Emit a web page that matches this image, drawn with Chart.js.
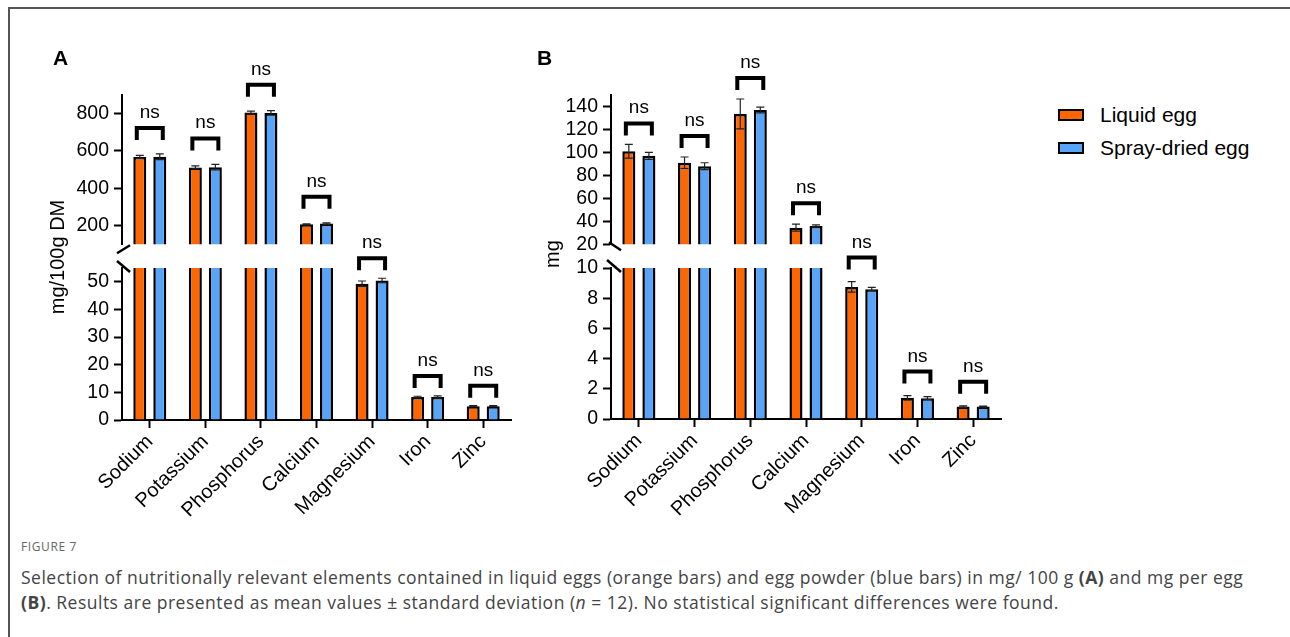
<!DOCTYPE html>
<html>
<head>
<meta charset="utf-8">
<script src="https://cdn.jsdelivr.net/npm/chart.js@4"></script>
<style>
  html, body { margin: 0; padding: 0; background: #fff; }
  body { width: 1290px; height: 637px; position: relative; overflow: hidden; font-family: "Liberation Sans", Arial, sans-serif; }
  .frame { position: absolute; left: 8px; top: 7px; right: -4px; bottom: -4px; border-top: 2px solid #555; border-left: 2px solid #555; }
  .box { position: absolute; }
  .panel { position: absolute; font-weight: bold; font-size: 21px; color: #000; }
  .ytitle { position: absolute; font-size: 20px; line-height: 22px; color: #000; white-space: nowrap; transform: translate(-50%, -50%) rotate(-90deg); }
  .legend { position: absolute; left: 1058px; top: 102px; font-size: 21px; color: #000; }
  .legend div { display: flex; align-items: center; height: 26px; margin-bottom: 7px; }
  .legend span.sw { width: 22px; height: 8px; border: 2px solid #000; margin-right: 16px; }
  .figlabel { position: absolute; left: 21px; top: 538px; font-family: "Open Sans", sans-serif; font-size: 12px; letter-spacing: 0.6px; color: #666; }
  .caption { position: absolute; left: 21px; top: 565px; font-family: "Open Sans", sans-serif; font-size: 17.5px; letter-spacing: 0.5px; line-height: 25px; color: #444; white-space: nowrap; }
</style>
</head>
<body>
<div class="frame"></div>

<div class="box" style="left:0px;top:30px;width:531px;height:231px"><canvas id="aUpper"></canvas></div>
<div class="box" style="left:0px;top:228px;width:531px;height:302px"><canvas id="aLower"></canvas></div>
<div class="box" style="left:531px;top:30px;width:490px;height:231px"><canvas id="bUpper"></canvas></div>
<div class="box" style="left:531px;top:228px;width:490px;height:301px"><canvas id="bLower"></canvas></div>

<div class="panel" style="left:53px;top:46px">A</div>
<div class="panel" style="left:537px;top:46px">B</div>
<div class="ytitle" style="left:57px;top:257px">mg/100g DM</div>
<div class="ytitle" style="left:552px;top:254px">mg</div>
<div class="legend" id="legend"></div>

<div class="figlabel">FIGURE 7</div>
<div class="caption">Selection of nutritionally relevant elements contained in liquid eggs (orange bars) and egg powder (blue bars) in mg/ 100 g <b>(A)</b> and mg per egg<br><b>(B)</b>. Results are presented as mean values &plusmn; standard deviation (<i>n</i> = 12). No statistical significant differences were found.</div>

<script>
// Datos
const elements = ['Sodium', 'Potassium', 'Phosphorus', 'Calcium', 'Magnesium', 'Iron', 'Zinc'];
const seriesNames = ['Liquid egg', 'Spray-dried egg'];
const seriesColors = ['#FF6600', '#58A4F8'];

// A: mg/100 g DM
const liquidA = [568, 512, 806, 207, 49.3, 8.3, 5.0];
const liquidA_sd = [8, 8, 8, 3, 1.0, 0.3, 0.2];
const sprayA = [569, 513, 804, 211, 50.5, 8.3, 5.0];
const sprayA_sd = [15, 15, 12, 4, 0.8, 0.4, 0.2];

// B: mg per egg
const liquidB = [101, 91, 133.5, 34.5, 8.75, 1.4, 0.82];
const liquidB_sd = [6, 5, 13, 3, 0.35, 0.15, 0.05];
const sprayB = [97, 88, 137, 36, 8.6, 1.38, 0.82];
const sprayB_sd = [3, 3, 2.5, 1, 0.12, 0.1, 0.04];

// ejes partidos
const aUpperRange = [100, 900];
const aUpperTicks = [200, 400, 600, 800];
const aLowerRange = [0, 55];
const aLowerTicks = [0, 10, 20, 30, 40, 50];
const bUpperRange = [20, 150];
const bUpperTicks = [20, 40, 60, 80, 100, 120, 140];
const bLowerRange = [0, 10];
const bLowerTicks = [0, 2, 4, 6, 8, 10];

const FONT = '"Liberation Sans", Arial, sans-serif';

// barras de error
const errorBars = {
    id: 'errorBars',
    afterDatasetsDraw(chart) {
        const { ctx, chartArea } = chart;
        const y = chart.scales.y;
        ctx.save();
        ctx.beginPath();
        ctx.rect(chartArea.left, chartArea.top - 3, chartArea.right - chartArea.left, chartArea.bottom - chartArea.top + 3);
        ctx.clip();
        ctx.strokeStyle = '#222';
        ctx.lineWidth = 1.2;
        chart.data.datasets.forEach((ds, di) => {
            chart.getDatasetMeta(di).data.forEach((bar, i) => {
                const top = y.getPixelForValue(ds.data[i] + ds.sd[i]);
                const bot = y.getPixelForValue(ds.data[i] - ds.sd[i]);
                ctx.beginPath();
                ctx.moveTo(bar.x, top); ctx.lineTo(bar.x, bot);
                ctx.moveTo(bar.x - 4, top); ctx.lineTo(bar.x + 4, top);
                ctx.moveTo(bar.x - 4, bot); ctx.lineTo(bar.x + 4, bot);
                ctx.stroke();
            });
        });
        ctx.restore();
    }
};

// corchetes "ns"
const nsBrackets = {
    id: 'nsBrackets',
    afterDraw(chart, args, opts) {
        const { ctx } = chart;
        const y = chart.scales.y;
        ctx.save();
        elements.forEach((_, i) => {
            const top = Math.max(...chart.data.datasets.map(ds => ds.data[i] + ds.sd[i]));
            if (top < y.min || top > y.max) return;
            const b0 = chart.getDatasetMeta(0).data[i];
            const b1 = chart.getDatasetMeta(1).data[i];
            const cx = (b0.x + b1.x) / 2;
            const yy = y.getPixelForValue(top) - opts.gap;
            ctx.strokeStyle = '#000';
            ctx.lineWidth = 4;
            ctx.lineJoin = 'miter';
            ctx.beginPath();
            ctx.moveTo(cx - 13, yy + 12);
            ctx.lineTo(cx - 13, yy);
            ctx.lineTo(cx + 13, yy);
            ctx.lineTo(cx + 13, yy + 12);
            ctx.stroke();
            ctx.fillStyle = '#000';
            ctx.font = '19px ' + FONT;
            ctx.textAlign = 'center';
            ctx.fillText('ns', cx, yy - 10);
        });
        ctx.restore();
    }
};

// marcas de corte del eje
const axisBreak = {
    id: 'axisBreak',
    afterDraw(chart, args, opts) {
        if (!opts.marks) return;
        const { ctx, chartArea } = chart;
        ctx.save();
        ctx.strokeStyle = '#000';
        ctx.lineWidth = 2.5;
        opts.marks.forEach(m => {
            const yRef = m.edge === 'bottom' ? chartArea.bottom : chartArea.top;
            ctx.beginPath();
            ctx.moveTo(chartArea.left + m.x0, yRef + m.y0);
            ctx.lineTo(chartArea.left + m.x1, yRef + m.y1);
            ctx.stroke();
        });
        ctx.restore();
    }
};

function makeChart(id, cfg) {
    const ctx = document.getElementById(id).getContext('2d');
    return new Chart(ctx, {
        type: 'bar',
        data: {
            labels: elements,
            datasets: [{
                label: seriesNames[0],
                data: cfg.liquid,
                sd: cfg.liquidSd,
                backgroundColor: seriesColors[0],
                borderColor: '#000',
                borderWidth: 2.5,
                borderSkipped: 'start',
                clip: 0,
                barPercentage: 0.65,
                categoryPercentage: 0.72
            }, {
                label: seriesNames[1],
                data: cfg.spray,
                sd: cfg.spraySd,
                backgroundColor: seriesColors[1],
                borderColor: '#000',
                borderWidth: 2.5,
                borderSkipped: 'start',
                clip: 0,
                barPercentage: 0.65,
                categoryPercentage: 0.72
            }]
        },
        options: {
            responsive: true,
            maintainAspectRatio: false,
            animation: false,
            events: [],
            layout: { padding: cfg.padding },
            plugins: {
                legend: { display: false },
                tooltip: { enabled: false },
                nsBrackets: { gap: cfg.gap },
                axisBreak: { marks: cfg.marks }
            },
            scales: {
                x: {
                    display: cfg.showX,
                    offset: true,
                    grid: { display: true, drawOnChartArea: false, offset: false, drawTicks: true, tickLength: 8, tickWidth: 2, tickColor: '#000' },
                    border: { display: true, color: '#000', width: 2 },
                    ticks: { color: '#000', font: { family: FONT, size: 20 }, minRotation: 45, maxRotation: 45, padding: 2, autoSkip: false },
                    afterFit(scale) { scale.height = cfg.showX ? 110 : 0; }
                },
                y: {
                    min: cfg.range[0],
                    max: cfg.range[1],
                    grid: { display: true, drawOnChartArea: false, drawTicks: true, tickLength: 8, tickWidth: 2, tickColor: '#000' },
                    border: { display: true, color: '#000', width: 2 },
                    ticks: { color: '#000', font: { family: FONT, size: 19.5 }, padding: 5, autoSkip: false },
                    afterBuildTicks(scale) { scale.ticks = cfg.ticks.map(v => ({ value: v })); },
                    afterFit(scale) { scale.width = cfg.yWidth; }
                }
            }
        },
        plugins: [errorBars, nsBrackets, axisBreak]
    });
}

makeChart('aUpper', {
    liquid: liquidA, liquidSd: liquidA_sd, spray: sprayA, spraySd: sprayA_sd,
    range: aUpperRange, ticks: aUpperTicks, showX: false, yWidth: 122, gap: 26,
    padding: { top: 65, bottom: 14, left: 0, right: 20 },
    marks: [{ edge: 'bottom', x0: -5, y0: 9, x1: 8, y1: 1 }]
});
makeChart('aLower', {
    liquid: liquidA, liquidSd: liquidA_sd, spray: sprayA, spraySd: sprayA_sd,
    range: aLowerRange, ticks: aLowerTicks, showX: true, yWidth: 122, gap: 20,
    padding: { top: 40, bottom: 0, left: 0, right: 20 },
    marks: [{ edge: 'top', x0: -5, y0: -7, x1: 8, y1: 4 }]
});
makeChart('bUpper', {
    liquid: liquidB, liquidSd: liquidB_sd, spray: sprayB, spraySd: sprayB_sd,
    range: bUpperRange, ticks: bUpperTicks, showX: false, yWidth: 80, gap: 21,
    padding: { top: 65, bottom: 14, left: 0, right: 20 },
    marks: [{ edge: 'bottom', x0: -2, y0: -2, x1: 10, y1: 6 }]
});
makeChart('bLower', {
    liquid: liquidB, liquidSd: liquidB_sd, spray: sprayB, spraySd: sprayB_sd,
    range: bLowerRange, ticks: bLowerTicks, showX: true, yWidth: 80, gap: 24,
    padding: { top: 40, bottom: 0, left: 0, right: 20 },
    marks: [{ edge: 'top', x0: -4, y0: -8, x1: 10, y1: 4 }]
});

// leyenda
const legend = document.getElementById('legend');
seriesNames.forEach((name, i) => {
    const row = document.createElement('div');
    const sw = document.createElement('span');
    sw.className = 'sw';
    sw.style.background = seriesColors[i];
    row.appendChild(sw);
    row.appendChild(document.createTextNode(name));
    legend.appendChild(row);
});
</script>
</body>
</html>
